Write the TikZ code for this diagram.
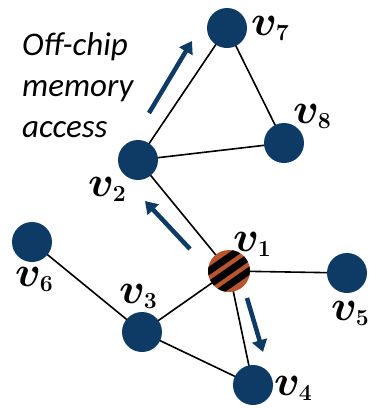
\documentclass[tikz,border=0pt]{standalone}
\usepackage{fontspec}
\setsansfont{Carlito}
\newfontfamily\lmm{Latin Modern Math}
\usetikzlibrary{arrows.meta,calc}
\definecolor{navy}{HTML}{0E3A66}
\definecolor{rust}{HTML}{B9552E}
\newcommand\vlab[1]{{\lmm 𝒗}\kern0.5pt\raisebox{-5pt}{\fontsize{23}{23}\selectfont\bfseries #1}}
\tikzset{
  vtx/.style={circle,fill=navy,draw=none,minimum size=40pt,inner sep=0pt},
  edge/.style={line width=1.6pt,black},
  flow/.style={line width=4.5pt,navy,-{Triangle[length=12pt,width=15pt]}},
  lbl/.style={font=\fontsize{43}{43}\selectfont,inner sep=0pt}
}
\begin{document}
\begin{tikzpicture}[x=1pt,y=-1pt]
\useasboundingbox (0,0) rectangle (375,408);
% edges
\coordinate (c7) at (227,28);
\coordinate (c8) at (284,143);
\coordinate (c2) at (138,160);
\coordinate (c6) at (32,242);
\coordinate (c1) at (229,271);
\coordinate (c5) at (347,273);
\coordinate (c3) at (142,332);
\coordinate (c4) at (253,385);
\draw[edge] (c7) -- (c8);
\draw[edge] (c7) -- (c2);
\draw[edge] (c2) -- (c8);
\draw[edge] (c2) -- (c1);
\draw[edge] (c1) -- (c5);
\draw[edge] (c1) -- (c3);
\draw[edge] (c1) -- (c4);
\draw[edge] (c3) -- (c6);
\draw[edge] (c3) -- (c4);
% nodes
\node[vtx] (v7) at (c7) {};
\node[vtx] (v8) at (c8) {};
\node[vtx] (v2) at (c2) {};
\node[vtx] (v6) at (c6) {};
\node[vtx,fill=rust,minimum size=42pt] (v1) at (c1) {};
\node[vtx] (v5) at (c5) {};
\node[vtx] (v3) at (c3) {};
\node[vtx] (v4) at (c4) {};
% stripes on v1
\begin{scope}
  \clip (c1) circle (21);
  \foreach \d in {-11.5,0,11.5} {
    \draw[line width=7pt,black] ($(c1)+(\d*0.57,\d*0.82)+(-33,23)$) -- ++(66,-46);
  }
\end{scope}
% labels
\node[lbl] (l7) at (270,28) {\vlab{7}};
\node[lbl] (l8) at (312,116) {\vlab{8}};
\node[lbl] (l2) at (107,189) {\vlab{2}};
\node[lbl] (l1) at (252,244) {\vlab{1}};
\node[lbl] (l6) at (34,279) {\vlab{6}};
\node[lbl] (l3) at (138,296) {\vlab{3}};
\node[lbl] (l5) at (350,313) {\vlab{5}};
\node[lbl] (l4) at (293,388) {\vlab{4}};
% text
\node[font=\sffamily\itshape\fontsize{33}{41}\selectfont,align=left,anchor=west,inner sep=0pt] (txt) at (22,85) {Off-chip\\memory\\access};
% flow arrows
\coordinate (a1s) at (149,113); \coordinate (a1e) at (192,41);
\coordinate (a2s) at (190,249); \coordinate (a2e) at (145,201);
\coordinate (a3s) at (247,298); \coordinate (a3e) at (263,352);
\draw[flow] (a1s) -- (a1e);
\draw[flow] (a2s) -- (a2e);
\draw[flow] (a3s) -- (a3e);
\end{tikzpicture}
\end{document}
